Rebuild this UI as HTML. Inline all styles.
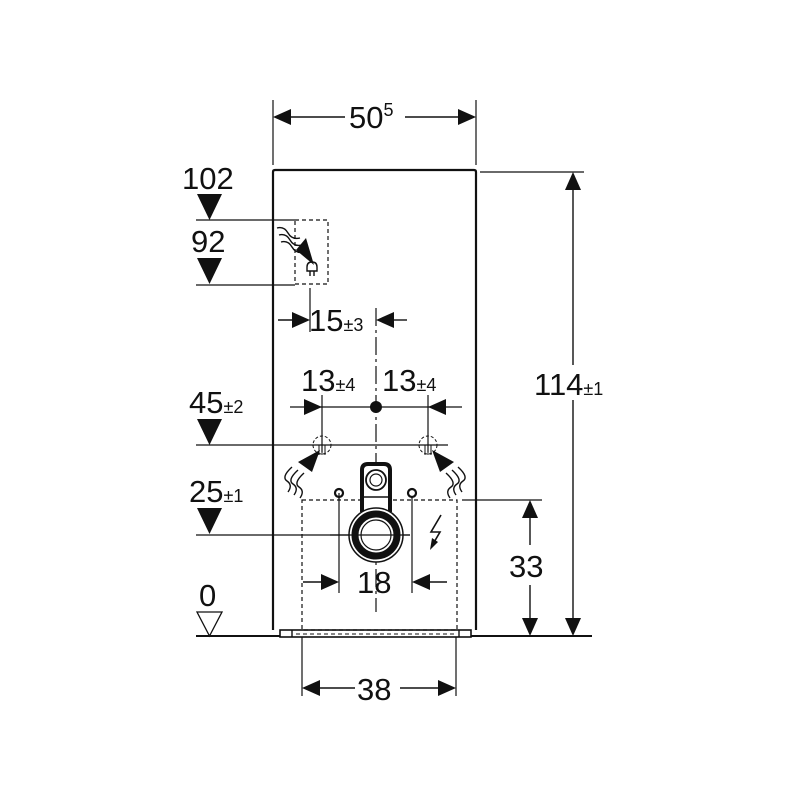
<!DOCTYPE html>
<html><head><meta charset="utf-8"><style>body{margin:0;background:#fff}svg{display:block}text{font-family:"Liberation Sans",Arial,sans-serif;fill:#111}</style></head><body>
<svg width="800" height="800" viewBox="0 0 800 800" xmlns="http://www.w3.org/2000/svg">
<g stroke="#111" fill="none">
<path d="M273 630 V172 Q273 170 275 170 H474 Q476 170 476 172 V630" stroke-width="2.2"/>
<rect x="280" y="630" width="191" height="7" stroke-width="1.6"/>
<line x1="292" y1="630" x2="292" y2="637" stroke-width="1.4"/>
<line x1="459" y1="630" x2="459" y2="637" stroke-width="1.4"/>
<line x1="296" y1="634" x2="455" y2="634" stroke-width="1" stroke-dasharray="4 3"/>
<line x1="196" y1="636" x2="280" y2="636" stroke-width="2"/>
<line x1="471" y1="636" x2="592" y2="636" stroke-width="2"/>
<line x1="273" y1="100" x2="273" y2="165" stroke-width="1.2"/>
<line x1="476" y1="100" x2="476" y2="165" stroke-width="1.2"/>
<line x1="290" y1="117" x2="345" y2="117" stroke-width="1.4"/>
<line x1="405" y1="117" x2="460" y2="117" stroke-width="1.4"/>
<line x1="480" y1="172" x2="584" y2="172" stroke-width="1.2"/>
<line x1="573" y1="190" x2="573" y2="365" stroke-width="1.4"/>
<line x1="573" y1="400" x2="573" y2="618" stroke-width="1.4"/>
<line x1="462" y1="500" x2="542" y2="500" stroke-width="1.2"/>
<line x1="530" y1="518" x2="530" y2="545" stroke-width="1.4"/>
<line x1="530" y1="585" x2="530" y2="618" stroke-width="1.4"/>
<line x1="196" y1="220" x2="295" y2="220" stroke-width="1.2"/>
<line x1="196" y1="285" x2="295" y2="285" stroke-width="1.2"/>
<line x1="196" y1="445" x2="448" y2="445" stroke-width="1.2"/>
<line x1="196" y1="535" x2="410" y2="535" stroke-width="1.2"/>
<rect x="295" y="220" width="33" height="64" stroke-width="1.2" stroke-dasharray="4 3"/>
<line x1="310" y1="288" x2="310" y2="332" stroke-width="1.2"/>
<line x1="278" y1="320" x2="295" y2="320" stroke-width="1.4"/>
<line x1="392" y1="320" x2="407" y2="320" stroke-width="1.4"/>
<line x1="376" y1="308" x2="376" y2="612" stroke-width="1.2" stroke-dasharray="18 4 3 4"/>
<line x1="322" y1="395" x2="322" y2="452" stroke-width="1.2"/>
<line x1="428" y1="395" x2="428" y2="452" stroke-width="1.2"/>
<line x1="290" y1="407" x2="462" y2="407" stroke-width="1.2"/>
<circle cx="322" cy="445" r="9" stroke-width="1" stroke-dasharray="3 2"/>
<circle cx="428" cy="445" r="9" stroke-width="1" stroke-dasharray="3 2"/>
<path d="M319 445v10M322 445v10M325 445v10M425 445v10M428 445v10M431 445v10" stroke-width="1"/>
<rect x="302" y="500" width="155" height="130" stroke-width="1.2" stroke-dasharray="4 3"/>
<line x1="302" y1="637" x2="302" y2="696" stroke-width="1.2"/>
<line x1="456" y1="637" x2="456" y2="696" stroke-width="1.2"/>
<line x1="320" y1="688" x2="355" y2="688" stroke-width="1.4"/>
<line x1="400" y1="688" x2="440" y2="688" stroke-width="1.4"/>
<line x1="339" y1="495" x2="339" y2="593" stroke-width="1.2"/>
<line x1="412" y1="495" x2="412" y2="593" stroke-width="1.2"/>
<line x1="303" y1="582" x2="325" y2="582" stroke-width="1.4"/>
<line x1="426" y1="582" x2="447" y2="582" stroke-width="1.4"/>
<!-- pipe bracket -->
<path d="M362 512 V470 Q362 464 368 464 H384 Q390 464 390 470 V512" stroke-width="4" fill="#fff"/>
<line x1="362" y1="497" x2="390" y2="497" stroke-width="1.5"/>
<circle cx="376" cy="480" r="10" stroke-width="1.8" fill="#fff"/>
<circle cx="376" cy="480" r="6" stroke-width="1.2" fill="#fff"/>
<circle cx="376" cy="535" r="27" stroke-width="1.5" fill="#fff"/>
<circle cx="376" cy="535" r="21" stroke-width="7"/>
<circle cx="376" cy="535" r="15" stroke-width="1.2" fill="#fff"/>
<circle cx="339" cy="493" r="4" fill="#fff" stroke-width="2.2"/>
<circle cx="412" cy="493" r="4" fill="#fff" stroke-width="2.2"/>
<line x1="339" y1="493" x2="339" y2="500" stroke-width="1.2"/>
<line x1="330" y1="535" x2="410" y2="535" stroke-width="1.2"/>
<path d="M277 228 q7 -2 11 5 t12 5 M279 235 q7 -2 11 5 t12 5 M281 242 q7 -2 11 5 t12 5" stroke-width="1.4"/>
<path d="M288 492 q5 -7 -1 -11 t5 -14 M294 495 q5 -7 -1 -11 t5 -14 M300 498 q5 -7 -1 -11 t5 -14" stroke-width="1.4"/>
<path d="M462 492 q-5 -7 1 -11 t-5 -14 M456 495 q-5 -7 1 -11 t-5 -14 M450 498 q-5 -7 1 -11 t-5 -14" stroke-width="1.4"/>
<path d="M307 271 v-4 q0 -5 5 -5 q5 0 5 5 v4 z M310 271 v5 M314 271 v5" stroke-width="1.4"/>
<path d="M441 515 l-10 17 h9 l-7 12" stroke-width="1.6"/>
</g>
<g fill="#111">
<polygon points="273,117 291,109 291,125"/>
<polygon points="476,117 458,109 458,125"/>
<polygon points="573,172 565,190 581,190"/>
<polygon points="573,636 565,618 581,618"/>
<polygon points="530,500 522,518 538,518"/>
<polygon points="530,636 522,618 538,618"/>
<polygon points="302,688 320,680 320,696"/>
<polygon points="456,688 438,680 438,696"/>
<polygon points="339,582 321,574 321,590"/>
<polygon points="412,582 430,574 430,590"/>
<polygon points="310,320 292,312 292,328"/>
<polygon points="376,320 394,312 394,328"/>
<polygon points="322,407 304,399 304,415"/>
<polygon points="428,407 446,399 446,415"/>
<circle cx="376" cy="407" r="6"/>
<polygon points="197,194 222,194 209.5,220"/>
<polygon points="197,258 222,258 209.5,284"/>
<polygon points="197,419 222,419 209.5,445"/>
<polygon points="197,508 222,508 209.5,534"/>
<polygon points="296,250 314,265 306,238"/>
<polygon points="320,450 298,462 312,472"/>
<polygon points="432,450 454,462 440,472"/>
<polygon points="430,550 432,538 438,542"/>
</g>
<polygon points="197,612 222,612 209.5,636" fill="#fff" stroke="#111" stroke-width="1.3"/>
<g font-size="31">
<text x="349" y="128">50<tspan font-size="18" dy="-12">5</tspan></text>
<text x="182" y="189">102</text>
<text x="191" y="252">92</text>
<text x="309" y="331">15<tspan font-size="18">±3</tspan></text>
<text x="301" y="391">13<tspan font-size="18">±4</tspan></text>
<text x="382" y="391">13<tspan font-size="18">±4</tspan></text>
<text x="189" y="413">45<tspan font-size="18">±2</tspan></text>
<text x="189" y="502">25<tspan font-size="18">±1</tspan></text>
<text x="534" y="395">114<tspan font-size="18">±1</tspan></text>
<text x="509" y="577">33</text>
<text x="357" y="593">18</text>
<text x="357" y="700">38</text>
<text x="199" y="606">0</text>
</g>
</svg>
</body></html>
